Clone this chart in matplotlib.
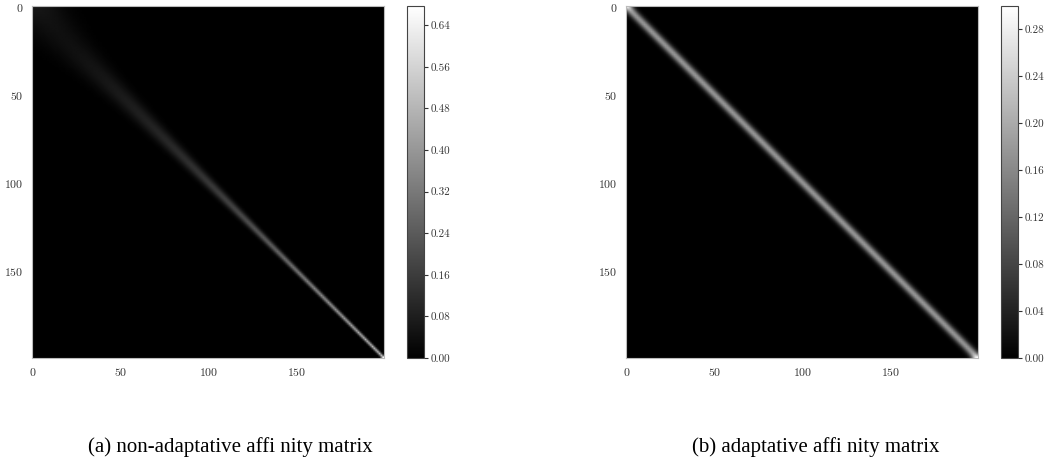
"""
Affinity matrices of 200 ordered samples, drawn without and with a
per-sample (adaptive) kernel width.
"""

import numpy as np
import matplotlib.pyplot as plt
from matplotlib.ticker import MultipleLocator

N_SAMPLES = 200

# band width (in index units) of the fixed-width kernel, read at a few rows
KNOT_ROWS = [0, 50, 100, 150, 199]
FIXED_BAND_WIDTH = [14.0, 5.5, 2.7, 1.3, 0.77]

# band width (in index units) of the adaptive kernel, same on every row
ADAPTIVE_BAND_WIDTH = 2.25

TICKS = [0, 50, 100, 150]
CAPTIONS = ["(a) non-adaptative affi nity matrix", "(b) adaptative affi nity matrix"]
CAPTION_X = [230, 816]
CBAR_STEPS = [0.08, 0.04]


def sample_positions():
    """Positions of the samples: spacing is the inverse of the band width."""
    rows = np.arange(N_SAMPLES)
    width = np.exp(np.interp(rows, KNOT_ROWS, np.log(FIXED_BAND_WIDTH)))
    spacing = 1.0 / width
    x = np.concatenate([[0.0], np.cumsum(spacing[:-1])])
    return x, spacing


def affinity(x, sigma_i, sigma_j):
    d2 = (x[:, None] - x[None, :]) ** 2
    a = np.exp(-d2 / (2.0 * sigma_i[:, None] * sigma_j[None, :]))
    return a / a.sum(axis=1, keepdims=True)


def build_matrices():
    x, spacing = sample_positions()
    ones = np.ones(N_SAMPLES)
    fixed = affinity(x, ones, ones)
    local = spacing * ADAPTIVE_BAND_WIDTH
    adaptive = affinity(x, local, local)
    return fixed, adaptive


def main():
    plt.rcParams["font.family"] = "serif"
    plt.rcParams["font.serif"] = ["cmr10"]
    plt.rcParams["axes.formatter.use_mathtext"] = True

    fixed, adaptive = build_matrices()

    fig = plt.figure(figsize=(10.5, 4.68), dpi=100)
    W, H = 1050.0, 468.0

    layouts = [(32, 407), (626, 1001)]
    for k, (mat, (ax_x, cb_x)) in enumerate(zip([fixed, adaptive], layouts)):
        ax = fig.add_axes([ax_x / W, (H - 358) / H, 352 / W, 352 / H])
        im = ax.imshow(mat, cmap="gray", interpolation="bilinear", aspect="auto")
        ax.set_xticks(TICKS)
        ax.set_yticks(TICKS)
        ax.tick_params(length=0, labelsize=8.5, pad=6, colors="#333333")
        for sp in ax.spines.values():
            sp.set_color("#bbbbbb")
            sp.set_linewidth(0.8)

        cax = fig.add_axes([cb_x / W, (H - 358) / H, 17 / W, 352 / H])
        cb = fig.colorbar(im, cax=cax)
        cb.locator = MultipleLocator(CBAR_STEPS[k])
        cb.formatter = plt.FormatStrFormatter("%.2f")
        cb.update_ticks()
        cb.outline.set_edgecolor("#444444")
        cb.outline.set_linewidth(0.8)
        cax.tick_params(length=3, width=0.8, labelsize=8, pad=2, colors="#333333")

        fig.text(CAPTION_X[k] / W, (H - 447) / H, CAPTIONS[k],
                 ha="center", va="center", fontsize=15,
                 family="Liberation Serif")

    fig.savefig("out.png", dpi=100)
    print(fixed.max(), adaptive.max())


if __name__ == "__main__":
    main()
